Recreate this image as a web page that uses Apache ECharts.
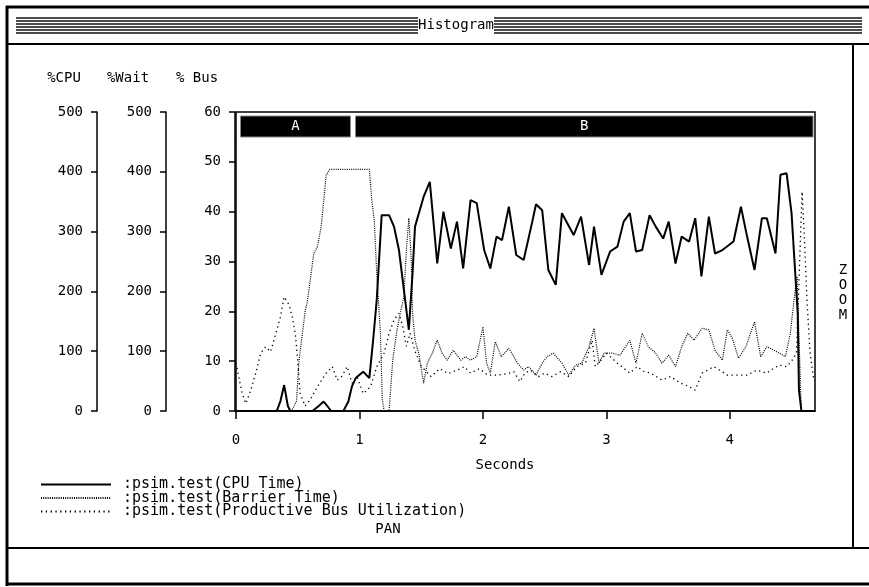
<!DOCTYPE html>
<html><head><meta charset="utf-8">
<script src="https://cdn.jsdelivr.net/npm/echarts@6/dist/echarts.min.js"></script>
<style>html,body{margin:0;padding:0;background:#fff;}#c{width:869px;height:587px;}</style>
</head><body><div id="c"></div>
<script>
// ---- data ----
const seriesNames = [':psim.test(CPU Time)', ':psim.test(Barrier Time)', ':psim.test(Productive Bus Utilization)'];
const cpuT = [0,0.33,0.36,0.39,0.42,0.44,0.62,0.67,0.71,0.74,0.77,0.87,0.91,0.94,0.97,1.03,1.08,1.11,1.14,1.18,1.24,1.28,1.32,1.36,1.40,1.43,1.45,1.52,1.57,1.63,1.68,1.74,1.79,1.84,1.90,1.95,2.01,2.06,2.11,2.155,2.21,2.27,2.33,2.40,2.43,2.48,2.53,2.59,2.64,2.735,2.795,2.86,2.90,2.96,3.03,3.09,3.14,3.19,3.24,3.29,3.35,3.40,3.46,3.505,3.56,3.61,3.67,3.72,3.77,3.83,3.88,3.94,4.03,4.09,4.14,4.20,4.26,4.30,4.37,4.41,4.46,4.50,4.53,4.55,4.56,4.58,4.69];
const cpuV = [0,0,2,5.2,1,0,0,1,1.9,1,0,0,1.9,5,6.6,7.9,6.6,14,22.3,39.3,39.3,37,32.3,24.3,16.3,27.6,37,43,46,29.6,40,32.6,38,28.6,42.3,41.7,32.3,28.6,35,34.3,41,31.3,30.3,38,41.5,40.3,28.3,25.3,39.7,35.3,39,29.3,37,27.3,32,33,38,39.7,32,32.3,39.3,37,34.6,38,29.6,35,34,38.7,27,39,31.6,32.3,34,41,35,28.3,38.7,38.7,31.6,47.4,47.7,39.7,27.6,19.6,4.2,0,0];
const barT = [0,0.45,0.49,0.51,0.53,0.56,0.58,0.60,0.63,0.66,0.69,0.71,0.73,0.76,1.08,1.10,1.12,1.14,1.17,1.185,1.20,1.24,1.27,1.30,1.33,1.36,1.38,1.40,1.42,1.43,1.45,1.48,1.52,1.55,1.59,1.63,1.67,1.71,1.76,1.82,1.86,1.90,1.95,2.00,2.03,2.06,2.10,2.15,2.21,2.28,2.33,2.37,2.43,2.48,2.52,2.57,2.64,2.695,2.75,2.80,2.86,2.90,2.94,2.98,3.05,3.11,3.19,3.24,3.29,3.34,3.40,3.45,3.505,3.56,3.61,3.66,3.71,3.775,3.83,3.88,3.94,3.98,4.02,4.07,4.13,4.20,4.25,4.30,4.38,4.45,4.49,4.52,4.545,4.56,4.575,4.58,4.69];
const barV = [0,0,2,10,14,20,22.3,26,31.6,33,37,42,47.3,48.5,48.5,42.3,38.3,27.6,15.6,2.2,0,0,10.3,15.6,19.6,23,32.3,38.7,30.3,19.6,14.2,11.6,5.6,9.6,11.6,14.2,11.6,10.2,12.2,10.2,10.9,10.2,10.9,16.9,9.6,7.6,13.9,10.9,12.6,9.6,8.2,8.9,7.2,9.6,10.9,11.6,9.6,7.2,9.2,9.6,12.9,16.6,9.6,11.6,11.6,11.2,14.2,9.6,15.6,12.9,11.6,9.6,11.2,8.9,12.9,15.6,14.2,16.6,16.3,12.2,10.2,16.3,14.6,10.6,12.9,17.9,10.9,12.9,11.9,10.9,15.6,22.3,27,15,3,0,0];
const busT = [0,0.05,0.08,0.12,0.16,0.20,0.24,0.28,0.32,0.36,0.39,0.43,0.455,0.48,0.50,0.52,0.56,0.60,0.66,0.73,0.78,0.82,0.86,0.90,0.94,0.98,1.03,1.09,1.14,1.20,1.24,1.28,1.32,1.35,1.38,1.41,1.45,1.50,1.58,1.65,1.72,1.79,1.85,1.90,1.97,2.04,2.12,2.20,2.25,2.30,2.34,2.385,2.45,2.50,2.56,2.63,2.695,2.76,2.83,2.885,2.91,2.95,3.00,3.09,3.19,3.25,3.30,3.36,3.45,3.52,3.60,3.67,3.72,3.775,3.87,3.93,3.98,4.06,4.14,4.22,4.30,4.35,4.40,4.46,4.50,4.54,4.585,4.60,4.625,4.65,4.68];
const busV = [9.6,3.5,1.5,4.2,7.6,11.6,12.9,11.9,15.3,18.9,22.9,21.3,18.9,15.6,10,3.5,1,2.2,4.9,7.6,8.9,6.2,7,8.9,5.6,6.9,3.5,4.9,8.9,11.6,15.6,18.3,19.6,17,13,15.6,12,9,6.9,8.5,7.5,8.2,8.9,7.6,8.5,7.2,7.2,7.5,7.9,5.9,7.6,8.2,6.9,7.6,6.9,7.9,6.9,8.9,9.6,14.2,8.9,10,11.6,9.6,7.6,8.9,8,7.6,6.2,6.9,5.6,4.9,4.2,7.6,8.9,8,7.2,7.2,7.2,8.2,7.6,8.5,9.2,8.9,10,11.6,44,37,22.3,11.6,6.2];
const phaseNames = ['A','B'];
const phaseStart = [0.036, 0.968];
const phaseEnd = [0.927, 4.674];
const xTicks = ['0','1','2','3','4'];
const cpuTicks = ['0','100','200','300','400','500'];
const waitTicks = ['0','100','200','300','400','500'];
const busTicks = ['0','10','20','30','40','50','60'];
const axisNames = ['%CPU','%Wait','% Bus'];

// ---- chart ----
const FONT = '"DejaVu Sans Mono","Liberation Mono",monospace';
const chart = echarts.init(document.getElementById('c'), null, {renderer:'canvas'});
const zip = (t, v) => t.map((x, i) => [x, v[i]]);
const phaseData = phaseNames.map((n, i) => [phaseStart[i], phaseEnd[i], n]);

function yAx(ticks, offset) {
  const mx = Number(ticks[ticks.length - 1]);
  return {
    type: 'value', position: 'left', offset: offset, min: 0, max: mx,
    interval: Number(ticks[1]),
    axisLine: {show: true, onZero: false, lineStyle: {color: '#000', width: 1.5}},
    axisTick: {show: true, length: 6, lineStyle: {color: '#000', width: 1.5}},
    axisLabel: {color: '#000', fontFamily: FONT, fontSize: 14, margin: 14,
      formatter: v => ticks.includes(String(v)) ? String(v) : ''},
    splitLine: {show: false}
  };
}

const stripes = [];
[18, 21, 24, 27, 30, 33].forEach(y => {
  stripes.push({type: 'line', shape: {x1: 16, y1: y, x2: 418, y2: y}, style: {stroke: '#111', lineWidth: 1.5}});
  stripes.push({type: 'line', shape: {x1: 494, y1: y, x2: 862, y2: y}, style: {stroke: '#111', lineWidth: 1.5}});
});

const tx = (text, x, y, extra) => Object.assign({type: 'text', x: x, y: y,
  style: Object.assign({text: text, fill: '#000', font: '14px ' + FONT, textAlign: 'center', textVerticalAlign: 'middle'}, extra || {})});

chart.setOption({
  animation: false,
  backgroundColor: '#fff',
  grid: {left: 236, top: 112, right: 54, bottom: 176, show: true, borderColor: '#000', borderWidth: 1.5, backgroundColor: 'transparent'},
  xAxis: {
    type: 'value', min: 0, max: 4.69, interval: 1,
    axisLine: {show: true, onZero: false, lineStyle: {color: '#000', width: 1.5}},
    axisTick: {show: true, length: 8, lineStyle: {color: '#000', width: 1.5}},
    axisLabel: {color: '#000', fontFamily: FONT, fontSize: 14, margin: 22, showMaxLabel: false,
      formatter: v => xTicks.includes(String(v)) ? String(v) : ''},
    splitLine: {show: false}
  },
  yAxis: [yAx(cpuTicks, 139), yAx(waitTicks, 70), yAx(busTicks, 1)],
  legend: {
    orient: 'vertical', left: 40, top: 477, padding: 0, itemGap: -1.5,
    itemWidth: 70, itemHeight: 12, selectedMode: false,
    itemStyle: {opacity: 0},
    textStyle: {color: '#000', fontFamily: FONT, fontSize: 15, lineHeight: 13, padding: [0, 0, 0, 7]},
    data: seriesNames
  },
  series: [
    {name: seriesNames[0], type: 'line', yAxisIndex: 2, data: zip(cpuT, cpuV), symbol: 'none',
      lineStyle: {color: '#000', width: 2}, itemStyle: {color: '#000'}, z: 5},
    {name: seriesNames[1], type: 'line', yAxisIndex: 2, data: zip(barT, barV), symbol: 'none',
      lineStyle: {color: '#000', width: 1.2, type: [1, 1.2]}, itemStyle: {color: '#000'}, z: 4},
    {name: seriesNames[2], type: 'line', yAxisIndex: 2, data: zip(busT, busV), symbol: 'none',
      lineStyle: {color: '#000', width: 1.3, type: [1.3, 3.5]}, itemStyle: {color: '#000'}, z: 3},
    {type: 'custom', yAxisIndex: 2, data: phaseData, z: 6,
      renderItem: function (params, api) {
        const a = api.coord([api.value(0), 60]);
        const b = api.coord([api.value(1), 60]);
        const x0 = a[0], x1 = b[0], y0 = a[1] + 4, h = 21;
        return {type: 'group', children: [
          {type: 'rect', shape: {x: x0, y: y0, width: x1 - x0, height: h}, style: {fill: '#000', stroke: '#888', lineWidth: 1}},
          {type: 'text', x: (x0 + x1) / 2, y: y0 + h / 2, style: {text: api.value(2), fill: '#fff', font: '14px ' + FONT, textAlign: 'center', textVerticalAlign: 'middle'}}
        ]};
      }
    }
  ],
  graphic: [
    {type: 'line', shape: {x1: 6, y1: 7, x2: 869, y2: 7}, style: {stroke: '#000', lineWidth: 3}},
    {type: 'line', shape: {x1: 7, y1: 6, x2: 7, y2: 586}, style: {stroke: '#000', lineWidth: 3}},
    {type: 'line', shape: {x1: 6, y1: 584, x2: 869, y2: 584}, style: {stroke: '#000', lineWidth: 3}},
    {type: 'line', shape: {x1: 8, y1: 44, x2: 869, y2: 44}, style: {stroke: '#000', lineWidth: 2}},
    {type: 'line', shape: {x1: 853, y1: 44, x2: 853, y2: 548}, style: {stroke: '#000', lineWidth: 2}},
    {type: 'line', shape: {x1: 8, y1: 548, x2: 869, y2: 548}, style: {stroke: '#000', lineWidth: 2}},
    ...stripes,
    tx('Histogram', 456, 25, {font: '14px ' + FONT}),
    tx(axisNames[0], 64, 78),
    tx(axisNames[1], 128, 78),
    tx(axisNames[2], 197, 78),
    tx('Seconds', 505, 465),
    tx('PAN', 388, 529),
    tx('Z', 843, 270), tx('O', 843, 285), tx('O', 843, 300), tx('M', 843, 315)
  ]
});
</script></body></html>
